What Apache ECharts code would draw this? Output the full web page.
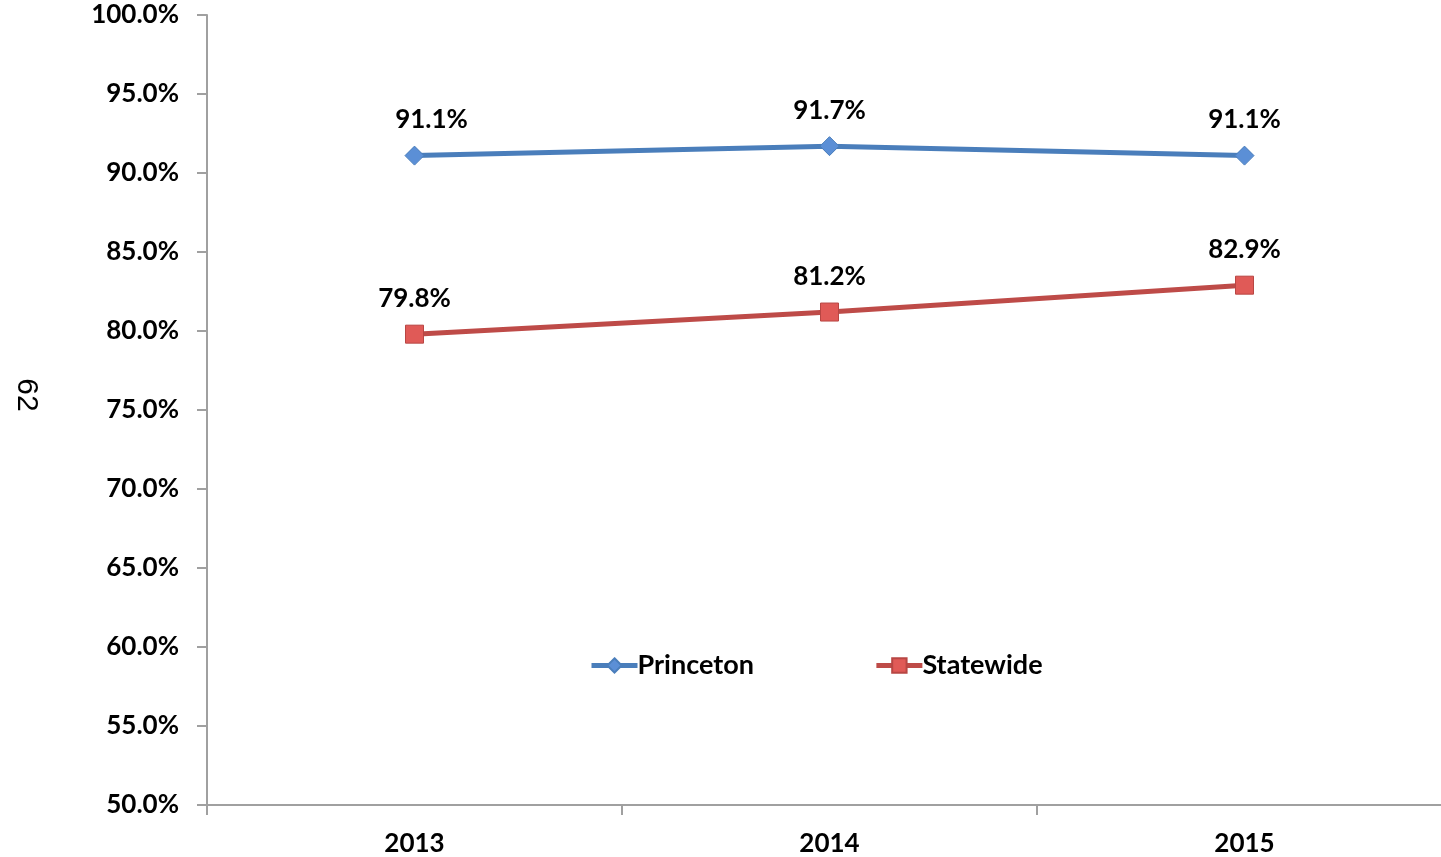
<!DOCTYPE html>
<html>
<head>
<meta charset="utf-8">
<script src="https://cdn.jsdelivr.net/npm/echarts@6/dist/echarts.min.js"></script>
<style>
html,body{margin:0;padding:0;background:#fff;overflow:hidden;width:1441px;height:857px;}
#chart{width:1452px;height:857px;}
</style>
</head>
<body>
<div id="chart"></div>
<script>
const categories = ['2013', '2014', '2015'];
const princeton = [91.1, 91.7, 91.1];
const statewide = [79.8, 81.2, 82.9];
const yTicks = {min: 50, max: 100, interval: 5};
const sideNote = '62';

const FONT = 'Lato';
const chart = echarts.init(document.getElementById('chart'));
const labelStyle = {
  show: true, position: 'top', distance: 13,
  fontFamily: FONT, fontWeight: 'bold', fontSize: 26, color: '#000',
  formatter: p => p.value.toFixed(1) + '%'
};
const princetonData = princeton.map((v, i) => i === 0 ? {value: v, label: {offset: [17, 0]}} : v);
chart.setOption({
  animation: false,
  backgroundColor: '#fff',
  grid: {left: 207, top: 15, bottom: 52, right: 0},
  legend: {
    top: 647, left: 584,
    itemWidth: 46, itemHeight: 18, itemGap: 120,
    lineStyle: {width: 5},
    textStyle: {fontFamily: FONT, fontWeight: 'bold', fontSize: 27, color: '#000', padding: [0, 0, 0, -5]},
    data: ['Princeton', 'Statewide']
  },
  xAxis: {
    type: 'category', data: categories, boundaryGap: true,
    axisLine: {lineStyle: {color: '#a0a0a0', width: 2}},
    axisTick: {show: true, length: 10, lineStyle: {color: '#a0a0a0', width: 2}},
    axisLabel: {margin: 26, fontFamily: FONT, fontWeight: 'bold', fontSize: 26, color: '#000'}
  },
  yAxis: {
    type: 'value', min: yTicks.min, max: yTicks.max, interval: yTicks.interval,
    splitLine: {show: false},
    axisLine: {show: true, lineStyle: {color: '#a0a0a0', width: 2}},
    axisTick: {show: true, length: 10, lineStyle: {color: '#a0a0a0', width: 2}},
    axisLabel: {margin: 28, fontFamily: FONT, fontWeight: 'bold', fontSize: 26, color: '#000',
      formatter: v => v.toFixed(1) + '%'}
  },
  graphic: [{
    type: 'text', x: 26, y: 395, rotation: -Math.PI / 2,
    style: {text: sideNote, font: '30px "Liberation Sans"', fill: '#000', align: 'center', verticalAlign: 'middle'}
  }],
  series: [
    {
      name: 'Princeton', type: 'line', data: princetonData,
      symbol: 'diamond', symbolSize: 19,
      lineStyle: {color: '#4a7ebb', width: 5},
      itemStyle: {color: '#5b8fd6', borderColor: '#4a7ebb', borderWidth: 1},
      label: labelStyle
    },
    {
      name: 'Statewide', type: 'line', data: statewide,
      symbol: 'rect', symbolSize: 18,
      lineStyle: {color: '#be4b48', width: 5},
      itemStyle: {color: '#e05a57', borderColor: '#b84643', borderWidth: 1},
      label: labelStyle
    }
  ]
});
</script>
</body>
</html>
